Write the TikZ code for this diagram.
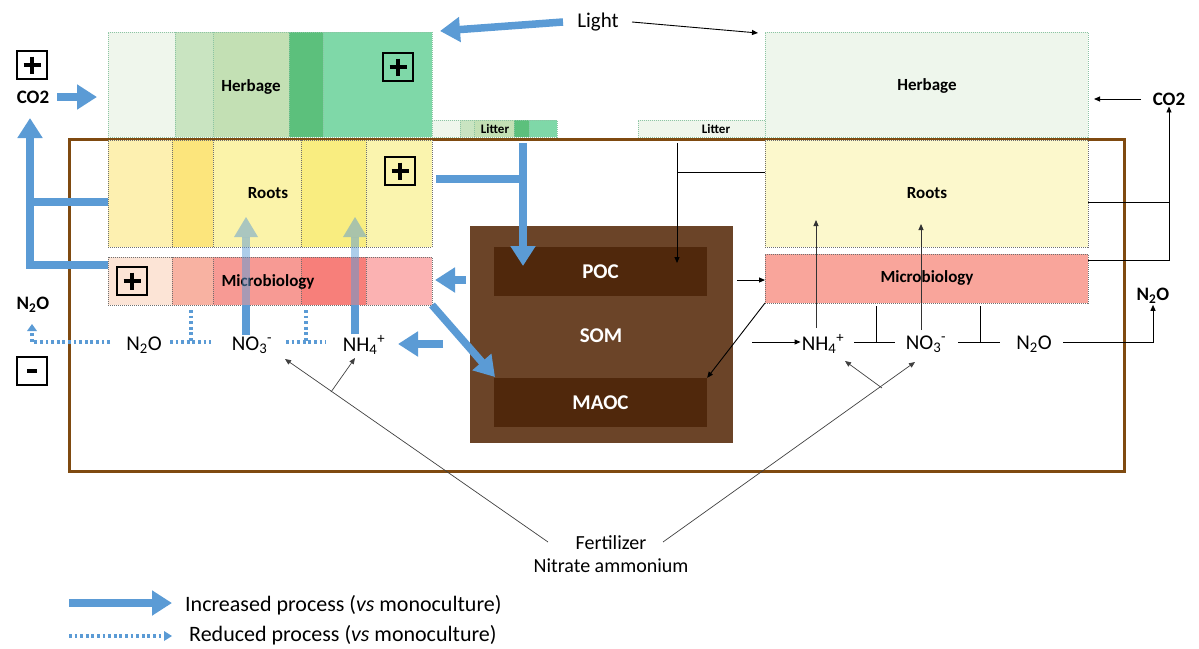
\documentclass[tikz,border=0pt]{standalone}
\usepackage{fontspec}
\setmainfont{Carlito}
\usetikzlibrary{arrows.meta}
\definecolor{blu}{HTML}{5B9BD5}
\definecolor{frm}{HTML}{7F4A10}
\definecolor{somc}{HTML}{6B4428}
\definecolor{pocc}{HTML}{50280C}
\definecolor{gA}{HTML}{EFF6EC}
\definecolor{gB}{HTML}{C9E4C1}
\definecolor{gC}{HTML}{C3E0B4}
\definecolor{gD}{HTML}{5CC07C}
\definecolor{gE}{HTML}{7FD8A8}
\definecolor{yA}{HTML}{FDF0B0}
\definecolor{yB}{HTML}{FCE57C}
\definecolor{yC}{HTML}{FBF3A9}
\definecolor{yD}{HTML}{F9ED80}
\definecolor{yE}{HTML}{FAF4AE}
\definecolor{rA}{HTML}{FCE4D6}
\definecolor{rB}{HTML}{F8B2A2}
\definecolor{rC}{HTML}{F79A94}
\definecolor{rD}{HTML}{F77F7A}
\definecolor{rE}{HTML}{FBB2B2}
\definecolor{herbR}{HTML}{EEF6EC}
\definecolor{rootR}{HTML}{FCF8CC}
\definecolor{micR}{HTML}{F9A59B}
\definecolor{gbord}{HTML}{8CC4A4}
\definecolor{kbord}{HTML}{707070}
\begin{document}
\begin{tikzpicture}[x=1pt,y=-1pt,
  area/.style={draw=#1, dash pattern=on 1pt off 1pt, line width=0.6pt, inner sep=0pt, outer sep=0pt},
  sepg/.style={draw=gbord, dash pattern=on 1pt off 1pt, line width=0.6pt},
  sepk/.style={draw=kbord, dash pattern=on 1pt off 1pt, line width=0.6pt},
  lbl/.style={font=\fontsize{17}{20}\selectfont\bfseries, inner sep=0pt},
  litlbl/.style={font=\fontsize{13}{15}\selectfont\bfseries, inner sep=0pt},
  soml/.style={font=\fontsize{21}{24}\selectfont\bfseries, text=white, inner sep=0pt},
  chem/.style={font=\fontsize{21}{24}\selectfont, inner sep=1pt},
  bigl/.style={font=\fontsize{19}{22}\selectfont\bfseries, inner sep=1pt},
  plain/.style={font=\fontsize{20}{24}\selectfont, inner sep=1pt},
  legl/.style={font=\fontsize{22}{26}\selectfont, inner sep=0pt},
  barrow/.style={blu, line width=7.5pt, -{Triangle[width=24pt,length=20pt]}},
  bline/.style={blu, line width=7.5pt},
  dotb/.style={blu, line width=3.2pt, dash pattern=on 2.8pt off 2.8pt},
  karrow/.style={line width=0.9pt, -{Triangle[width=5pt,length=6pt]}},
  kline/.style={line width=0.9pt},
  fline/.style={draw=black!75, line width=0.7pt},
  signbox/.style={draw, line width=1.3pt, minimum width=30pt, minimum height=28pt, inner sep=0pt},
  cross/.style={line width=3.6pt}
]
\useasboundingbox (0,0) rectangle (1199,648);

% soil frame
\draw[frm, line width=3pt] (69,139) rectangle (1124,471);

% ---------- left side columns ----------
\fill[gA] (108,32) rectangle (175,137);
\fill[gB] (175,32) rectangle (213,137);
\fill[gC] (213,32) rectangle (289,137);
\fill[gD] (289,32) rectangle (323,137);
\fill[gE] (323,32) rectangle (432,137);
\foreach \x in {175,213,289,323} \draw[sepg] (\x,32) -- (\x,137);
\node[area=gbord, minimum width=324, minimum height=105] (lherb) at (270,84.5) {};
\fill[gA] (432,120) rectangle (460,137);
\fill[gB] (460,120) rectangle (474,137);
\fill[gC] (474,120) rectangle (514,137);
\fill[gD] (514,120) rectangle (529,137);
\fill[gE] (529,120) rectangle (557,137);
\foreach \x in {460,474,514,529} \draw[sepg] (\x,120) -- (\x,137);
\node[area=gbord, minimum width=125, minimum height=17] (llit) at (494.5,128.5) {};
\fill[yA] (108,140) rectangle (172,247);
\fill[yB] (172,140) rectangle (213,247);
\fill[yC] (213,140) rectangle (301,247);
\fill[yD] (301,140) rectangle (366,247);
\fill[yE] (366,140) rectangle (432,247);
\foreach \x in {172,213,301,366} \draw[sepk] (\x,140) -- (\x,247);
\node[area=kbord, minimum width=324, minimum height=107] (lroot) at (270,193.5) {};
\fill[rA] (108,257) rectangle (172,305);
\fill[rB] (172,257) rectangle (213,305);
\fill[rC] (213,257) rectangle (301,305);
\fill[rD] (301,257) rectangle (366,305);
\fill[rE] (366,257) rectangle (432,305);
\foreach \x in {172,213,301,366} \draw[sepk] (\x,257) -- (\x,305);
\node[area=kbord, minimum width=324, minimum height=48] (lmic) at (270,281) {};

\node[lbl] (tHerbL) at (251,87) {Herbage};
\node[lbl] (tRootL) at (268,193) {Roots};
\node[lbl] (tMicL) at (268,282) {Microbiology};
\node[litlbl] (tLitL) at (495,129) {Litter};

% ---------- right side ----------
\node[area=gbord, fill=herbR, minimum width=323, minimum height=105] (rherb) at (926.5,84.5) {};
\node[area=gbord, fill=gA, minimum width=127, minimum height=17] (rlit) at (701.5,128.5) {};
\node[area=kbord, fill=rootR, minimum width=323, minimum height=107] (rroot) at (926.5,193.5) {};
\node[area=kbord, fill=micR, minimum width=323, minimum height=49] (rmic) at (926.5,278.5) {};
\node[lbl] (tHerbR) at (927,86) {Herbage};
\node[lbl] (tRootR) at (927,193) {Roots};
\node[lbl] (tMicR) at (927,278) {Microbiology};
\node[litlbl] (tLitR) at (716,129) {Litter};

% ---------- SOM ----------
\node[fill=somc, minimum width=263, minimum height=217, inner sep=0pt] (som) at (601,334.5) {};
\node[fill=pocc, minimum width=213, minimum height=49, inner sep=0pt] (poc) at (600.5,271.5) {};
\node[fill=pocc, minimum width=213, minimum height=49, inner sep=0pt] (maoc) at (600.5,402.5) {};
\node[soml] at (poc) {POC};
\node[soml] (tsom) at (601,336) {SOM};
\node[soml] at (maoc) {MAOC};

% ---------- texts ----------
\node[chem] (light) at (598,22) {Light};
\node[bigl] (co2L) at (33,97) {CO2};
\node[bigl] (co2R) at (1169,99) {CO2};
\node[bigl] (n2oL) at (33,305) {N\textsubscript{2}O};
\node[bigl] (n2oR) at (1153,296) {N\textsubscript{2}O};
\node[chem] (n2oA) at (144,345) {N\textsubscript{2}O};
\node[chem] (no3A) at (252,345) {NO\textsubscript{3}\textsuperscript{-}};
\node[chem] (nh4A) at (364,345) {NH\textsubscript{4}\textsuperscript{+}};
\node[chem] (nh4B) at (823,344) {NH\textsubscript{4}\textsuperscript{+}};
\node[chem] (no3B) at (926,344) {NO\textsubscript{3}\textsuperscript{-}};
\node[chem] (n2oB) at (1034,344) {N\textsubscript{2}O};
\node[plain, align=center] (fert) at (611,554) {Fertilizer\\[-1pt]Nitrate ammonium};

% sign boxes
\node[signbox] (pCO2) at (32,65) {};
\node[signbox] (pHerb) at (398,67) {};
\node[signbox] (pRoot) at (400,171) {};
\node[signbox] (pMic) at (132,281) {};
\node[signbox] (mN2O) at (32,371) {};
\foreach \b in {pCO2,pHerb,pRoot,pMic}{
  \draw[cross] (\b.center) +(-8.5,0) -- +(8.5,0);
  \draw[cross] (\b.center) +(0,-8.5) -- +(0,8.5);
}
\draw[cross] (mN2O.center) +(-5,0) -- +(5,0);

% ---------- coordinates ----------
\coordinate (lightS) at (563,22);
\coordinate (lightL) at (440,31);
\coordinate (lightK) at (632,22);
\coordinate (lightR) at (758,33);
\coordinate (co2S) at (57,97);
\coordinate (co2tip) at (97,97);
\coordinate (loopC) at (30,265);
\coordinate (loopR) at (30,202);
\coordinate (loopT) at (30,118);
\coordinate (rpA) at (436,179);
\coordinate (rpB) at (523,179);
\coordinate (litA) at (523,143);
\coordinate (pocIn) at (523,266);
\coordinate (somOut) at (466,280);
\coordinate (micIn) at (435,280);
\coordinate (micOut) at (432,305);
\coordinate (maocIn) at (495,377);
\coordinate (somOut2) at (443,344);
\coordinate (nh4In) at (398,344);

% ---------- blue arrows ----------
\draw[barrow] (lightS) -- (lightL);
\draw[barrow] (co2S) -- (co2tip);
\draw[bline, line join=miter] (lmic.west |- loopC) -- (loopC) -- ([yshift=-2pt]loopR);
\draw[barrow] (loopR) -- (loopT);
\draw[bline] (lroot.west |- loopR) -- ([xshift=-3.75pt]loopR);
\draw[bline] (rpA) -- ([xshift=3.75pt]rpB);
\draw[barrow] (litA) -- (pocIn);
\draw[barrow] (somOut) -- (micIn);
\draw[barrow] (micOut) -- (maocIn);
\draw[barrow] (somOut2) -- (nh4In);
% arrows from NO3- and NH4+ into the roots, seen through the boxes
\foreach \x/\n in {246/no3A,355/nh4A}{
  \draw[bline] (\n.north -| \x,0) -- (\x,305);
  \draw[bline, opacity=0.5] (\x,305) -- (\x,237);
  \fill[blu, opacity=0.5] (\x-12,237) -- (\x+12,237) -- (\x,217) -- cycle;
}

% dotted reduced processes
\coordinate (dA) at (110,342);
\draw[dotb] (dA) -- (32,342) -- (32,330);
\fill[blu] (27,331) -- (37,331) -- (32,324) -- cycle;
\draw[dotb] (170,342) -- (211,342);
\draw[dotb] (191,310) -- (191,342);
\draw[dotb] (286,342) -- (326,342);
\draw[dotb] (306,310) -- (306,342);

% ---------- black arrows ----------
\draw[karrow] (lightK) -- (lightR);
\coordinate (litB) at (677,143);
\coordinate (pocInB) at (677,263);
\draw[karrow] (litB) -- (pocInB);
\draw[kline] (677,172) -- (rroot.west |- 0,172);
\draw[karrow] (737,280) -- (rmic.west |- 0,280);
\draw[karrow] (rmic.south west) -- (maoc.north east);
\draw[karrow] (752,342) -- (nh4B.west |- 0,342);
\draw[kline] (854,342) -- (895,342);
\draw[kline] (876,306) -- (876,342);
\draw[kline] (958,342) -- (1000,342);
\draw[kline] (980,306) -- (980,342);
\draw[karrow] (1063,342) -- (1153,342) -- (n2oR.south);
\draw[karrow, black!80] (816,328) -- (816,220);
\draw[karrow, black!80] (921,330) -- (921,224);
\coordinate (co2Rs) at (1141,99);
\coordinate (co2Rt) at (1094,99);
\draw[karrow] (co2Rs) -- (co2Rt);
\draw[kline] (rroot.east |- 0,202) -- (1169,202);
\draw[karrow] (rmic.east |- 0,260) -- (1169,260) -- (co2R.south);

% fertilizer lines
\coordinate (fL) at (548,542);
\coordinate (fR) at (663,542);
\coordinate (fLb) at (331,392);
\coordinate (fRb) at (882,388);
\draw[fline, -{Triangle[width=5pt,length=6pt]}] (fL) -- (285,359);
\draw[fline, -{Triangle[width=5pt,length=6pt]}] (fLb) -- (355,358);
\draw[fline, -{Triangle[width=5pt,length=6pt]}] (fR) -- (915,362);
\draw[fline, -{Triangle[width=5pt,length=6pt]}] (fRb) -- (845,361);

% ---------- legend ----------
\node[legl, anchor=west] (legA) at (185,605) {Increased process (\textit{vs} monoculture)};
\node[legl, anchor=west] (legB) at (189,635) {Reduced process (\textit{vs} monoculture)};
\coordinate (legA0) at (69,603);
\coordinate (legA1) at (172,603);
\coordinate (legB0) at (69,636);
\coordinate (legB1) at (165,636);
\draw[barrow] (legA0) -- (legA1);
\draw[dotb] (legB0) -- (legB1);
\fill[blu] (164,631) -- (172,636) -- (164,641) -- cycle;
\end{tikzpicture}
\end{document}
